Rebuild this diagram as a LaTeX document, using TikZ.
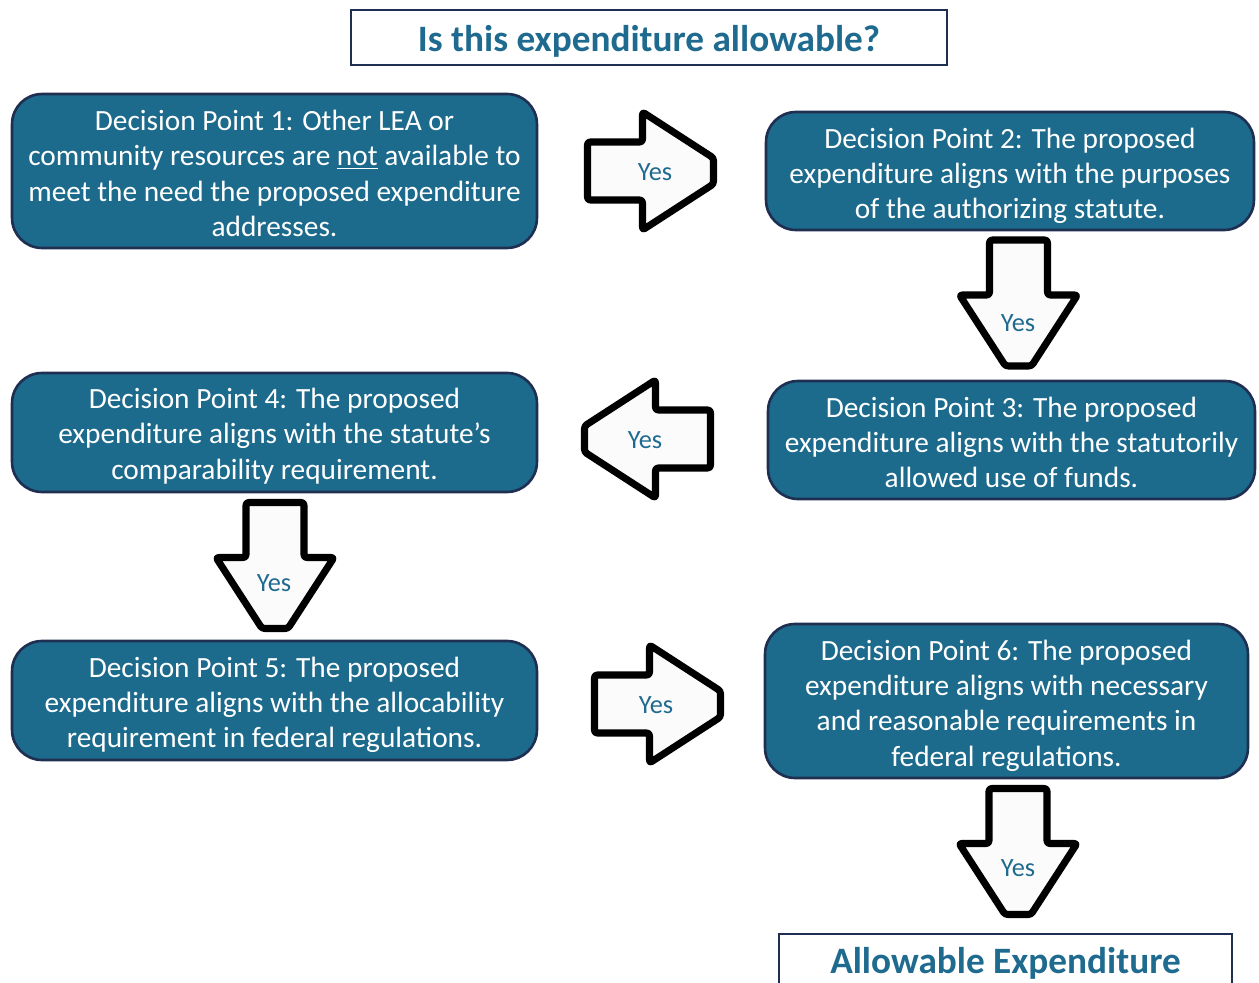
\documentclass[tikz,border=0pt]{standalone}
\usepackage{fontspec}
\setmainfont{Carlito}
\usetikzlibrary{positioning}
\definecolor{dpfill}{HTML}{1C6A8C}
\definecolor{dpline}{HTML}{1F2F52}
\definecolor{dptext}{HTML}{1F6A8F}
\definecolor{arrowfill}{HTML}{FBFBFB}

\begin{document}
\begin{tikzpicture}[x=0.02cm,y=-0.02cm,
	dpbox/.style={draw=dpline,line width=1.5pt,fill=dpfill,rounded corners=0.6cm},
	dptxt/.style={text=white,align=center,inner sep=0pt,font=\fontsize{16.7}{20.1}\selectfont},
	headbox/.style={draw=dpline,line width=1.5pt,fill=white,text=dptext,text depth=0pt,
		font=\fontsize{21.2}{26}\selectfont\bfseries},
	yesline/.style={draw=black,line width=4pt,fill=arrowfill,line join=round,rounded corners=1.5pt},
	yesarrow/.pic={\draw[yesline] (-63,-29) -- (-8,-29) -- (-8,-59) -- (63,-13) -- (63,13)
		-- (-8,59) -- (-8,29) -- (-63,29) -- cycle;},
	yes/.style={text=dptext,font=\fontsize{15}{18}\selectfont}]
		\useasboundingbox (0,0) rectangle (1259,983);
		% question and result
		\node[headbox,text height=16.4pt,minimum width=11.92cm,minimum height=1.1cm](q) at (649,37.5) {Is this expenditure allowable?};
		\node[headbox,text height=14pt,minimum width=9.06cm,minimum height=1.1cm](ok) at (1005.5,961.5) {Allowable Expenditure};
		% decision points
		\node[dpbox,minimum width=10.5cm,minimum height=3.08cm](dp1) at (274.5,171) {};
		\node[dpbox,minimum width=9.76cm,minimum height=2.36cm](dp2) at (1010,171) {};
		\node[dpbox,minimum width=9.74cm,minimum height=2.36cm](dp3) at (1011.5,440) {};
		\node[dpbox,minimum width=10.5cm,minimum height=2.38cm](dp4) at (274.5,432.5) {};
		\node[dpbox,minimum width=10.5cm,minimum height=2.38cm](dp5) at (274.5,700.5) {};
		\node[dpbox,minimum width=9.66cm,minimum height=3.08cm](dp6) at (1006.5,701) {};
		\node[dptxt](t1) at (274.5,173.5) {Decision Point 1: Other LEA or\\community resources are \underline{not} available to\\meet the need the proposed expenditure\\addresses.};
		\node[dptxt](t2) at (1010,176) {Decision Point 2: The proposed\\expenditure aligns with the purposes\\of the authorizing statute.};
		\node[dptxt](t3) at (1011.5,442.5) {Decision Point 3: The proposed\\expenditure aligns with the statutorily\\allowed use of funds.};
		\node[dptxt](t4) at (274.5,436) {Decision Point 4: The proposed\\expenditure aligns with the statute’s\\comparability requirement.};
		\node[dptxt](t5) at (274.5,705) {Decision Point 5: The proposed\\expenditure aligns with the allocability\\requirement in federal regulations.};
		\node[dptxt](t6) at (1006.5,705.5) {Decision Point 6: The proposed\\expenditure aligns with necessary\\and reasonable requirements in\\federal regulations.};
		% yes arrows
		\pic (a1) at (650.5,171) {yesarrow};
		\pic[rotate=-90] (a2) at (1018.5,303) {yesarrow};
		\pic[rotate=180] (a3) at (647.5,439) {yesarrow};
		\pic[rotate=-90] (a4) at (275,565.5) {yesarrow};
		\pic (a5) at (657.5,704) {yesarrow};
		\pic[rotate=-90] (a6) at (1018,851.5) {yesarrow};
		\node[yes](y1) at (655,172) {Yes};
		\node[yes](y2) at (1018,323) {Yes};
		\node[yes](y3) at (645,440) {Yes};
		\node[yes](y4) at (274,583) {Yes};
		\node[yes](y5) at (656,705) {Yes};
		\node[yes](y6) at (1018,868) {Yes};
\end{tikzpicture}
\end{document}
